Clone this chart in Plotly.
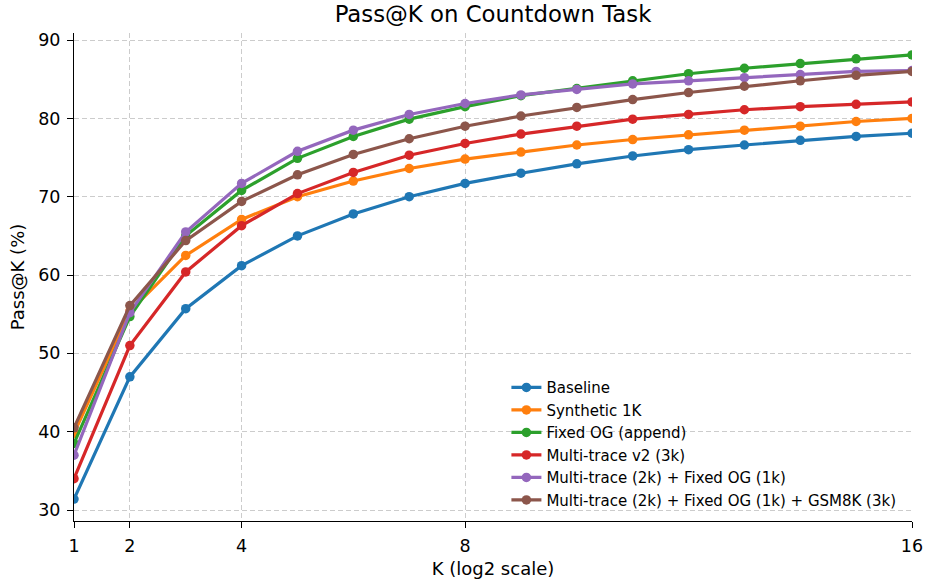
import plotly.graph_objects as go

K = list(range(1, 17))
baseline = [31.4, 47.0, 55.7, 61.2, 65.0, 67.8, 70.0, 71.7, 73.0, 74.2, 75.2, 76.0, 76.6, 77.2, 77.7, 78.1]
synthetic_1k = [39.8, 55.4, 62.5, 67.1, 70.0, 72.0, 73.6, 74.8, 75.7, 76.6, 77.3, 77.9, 78.5, 79.0, 79.6, 80.0]
fixed_og = [38.5, 54.7, 65.0, 70.8, 74.9, 77.7, 79.9, 81.5, 82.9, 83.8, 84.8, 85.7, 86.4, 87.0, 87.6, 88.1]
multi_v2 = [34.0, 51.0, 60.4, 66.3, 70.4, 73.1, 75.3, 76.8, 78.0, 79.0, 79.9, 80.5, 81.1, 81.5, 81.8, 82.1]
multi_fixed = [37.0, 55.2, 65.5, 71.7, 75.8, 78.5, 80.5, 81.9, 83.0, 83.7, 84.4, 84.8, 85.2, 85.6, 86.0, 86.1]
multi_fixed_gsm = [40.5, 56.1, 64.4, 69.4, 72.8, 75.4, 77.4, 79.0, 80.3, 81.4, 82.4, 83.3, 84.1, 84.8, 85.5, 86.0]

series_names = [
    "Baseline",
    "Synthetic 1K",
    "Fixed OG (append)",
    "Multi-trace v2 (3k)",
    "Multi-trace (2k) + Fixed OG (1k)",
    "Multi-trace (2k) + Fixed OG (1k) + GSM8K (3k)",
]
series_values = [baseline, synthetic_1k, fixed_og, multi_v2, multi_fixed, multi_fixed_gsm]
colors = ["#1f77b4", "#ff7f0e", "#2ca02c", "#d62728", "#9467bd", "#8c564b"]

x_ticks = [1, 2, 4, 8, 16]
y_ticks = [30, 40, 50, 60, 70, 80, 90]

fig = go.Figure()
for i, (name, vals, c) in enumerate(zip(series_names, series_values, colors)):
    fig.add_trace(go.Scatter(
        x=K, y=vals, name=name, mode="lines+markers", legendgroup=f"g{i}",
        line=dict(color=c, width=3.2),
        marker=dict(color=c, size=9.5),
    ))

font = "DejaVu Sans"
grid = "rgba(195,195,195,0.85)"
W, H = 925, 582
fig.update_layout(
    width=W, height=H,
    margin=dict(l=74, r=13, t=33, b=61, autoexpand=False),
    paper_bgcolor="white", plot_bgcolor="white",
    font=dict(family=font, size=17.5, color="black"),
    title=dict(text="Pass@K on Countdown Task", x=0.5, xref="paper", xanchor="center",
               y=1 - 14 / H, yanchor="middle", font=dict(size=22.8, family=font)),
    showlegend=True,
    legend=dict(x=0.516, xanchor="left", y=0.307, yanchor="top",
                bgcolor="rgba(255,255,255,0)", font=dict(size=15, family=font),
                itemwidth=30, tracegroupgap=0),
    xaxis=dict(
        range=[1, 16], tickvals=x_ticks, ticktext=[str(t) for t in x_ticks],
        showline=True, linecolor="black", linewidth=1.1, mirror=False,
        ticks="outside", ticklen=6, tickcolor="black", tickwidth=1.1,
        ticklabelstandoff=3, automargin=False,
        showgrid=True, gridcolor=grid, griddash="5px,3px", gridwidth=1,
        zeroline=False,
        title=dict(text="K (log2 scale)", standoff=7, font=dict(size=18)),
    ),
    yaxis=dict(
        range=[28.6, 90.9], tickvals=y_ticks,
        showline=True, linecolor="black", linewidth=1.1, mirror=False,
        ticks="outside", ticklen=6, tickcolor="black", tickwidth=1.1,
        ticklabelstandoff=3, automargin=False,
        showgrid=True, gridcolor=grid, griddash="5px,3px", gridwidth=1,
        zeroline=False,
        title=dict(text="Pass@K (%)", standoff=8, font=dict(size=18)),
    ),
)

# remove the default 8px page margin so the figure fills the window exactly
fig.write_html(
    "out.html",
    config={"displayModeBar": False},
    post_script="document.body.style.margin='0px';document.body.style.overflow='hidden';",
)
